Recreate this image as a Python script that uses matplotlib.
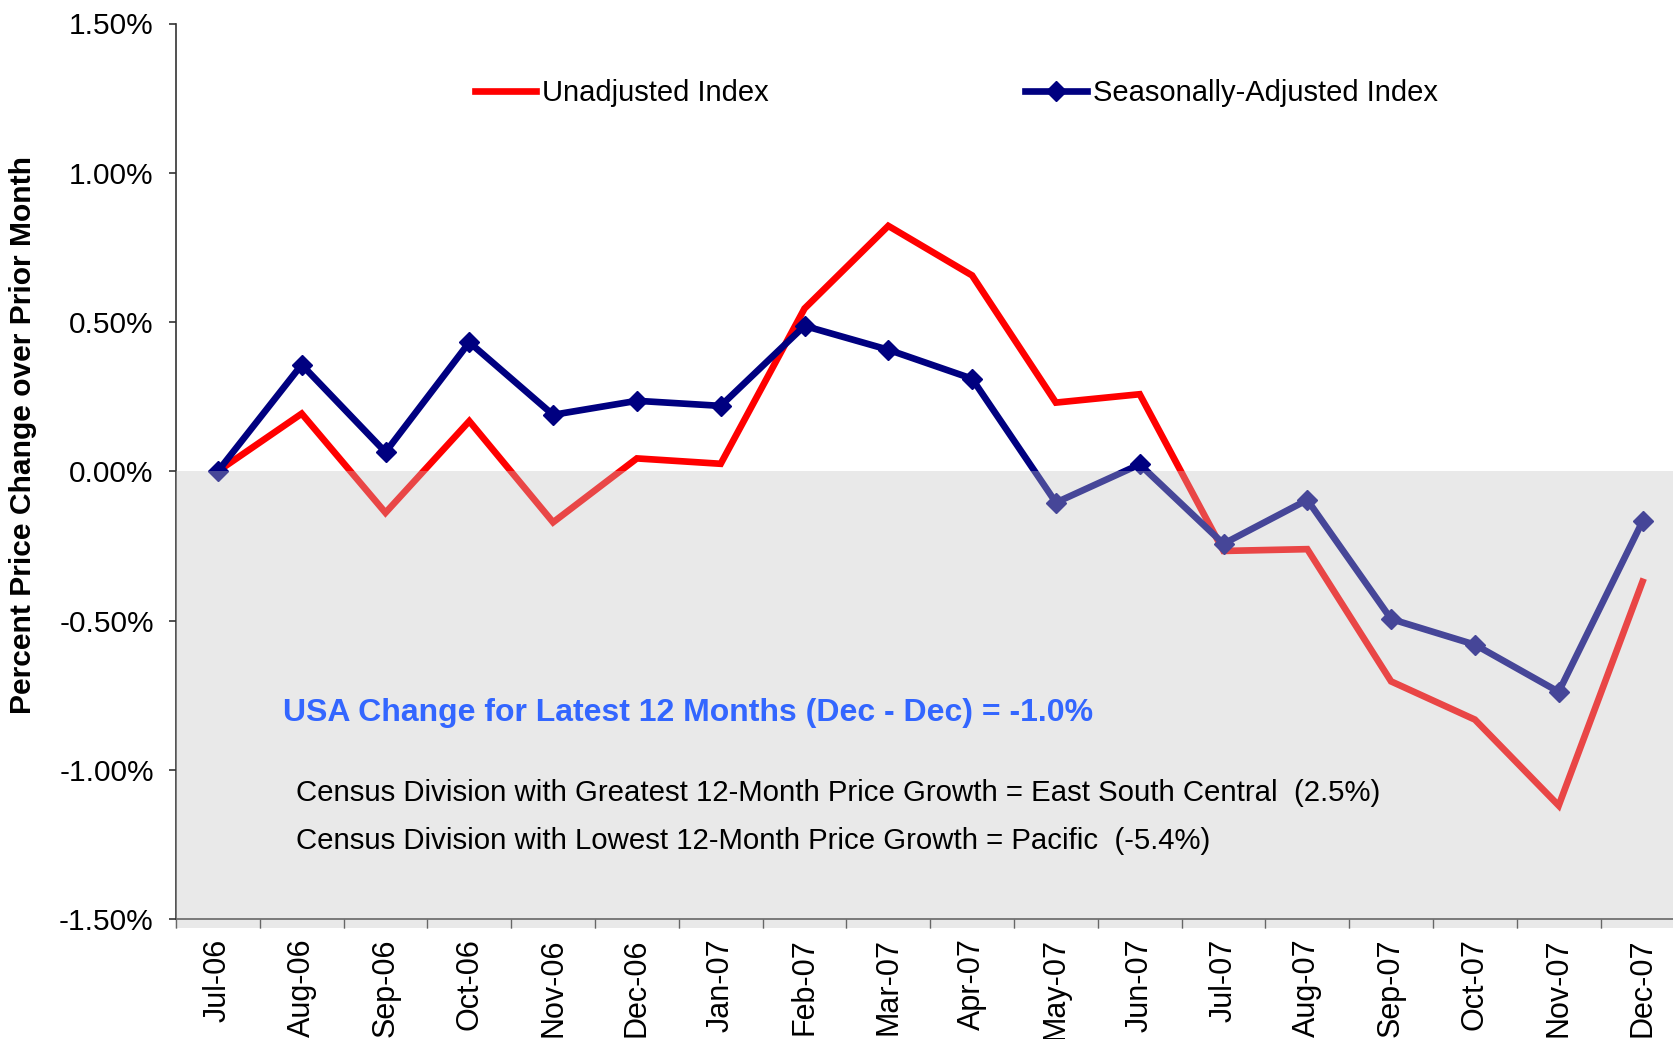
import matplotlib
matplotlib.use('Agg')
import matplotlib.pyplot as plt
from matplotlib.ticker import FuncFormatter, FixedLocator

plt.rcParams['font.family'] = ['Liberation Sans', 'DejaVu Sans']

months = ['Jul-06', 'Aug-06', 'Sep-06', 'Oct-06', 'Nov-06', 'Dec-06', 'Jan-07', 'Feb-07', 'Mar-07',
          'Apr-07', 'May-07', 'Jun-07', 'Jul-07', 'Aug-07', 'Sep-07', 'Oct-07', 'Nov-07', 'Dec-07']
unadjusted = [0.00, 0.193, -0.139, 0.168, -0.171, 0.043, 0.025, 0.545, 0.822, 0.656, 0.230, 0.258,
              -0.267, -0.261, -0.704, -0.832, -1.120, -0.370]
seasonal = [0.00, 0.357, 0.064, 0.432, 0.189, 0.236, 0.219, 0.487, 0.407, 0.310, -0.105, 0.023,
            -0.243, -0.096, -0.495, -0.581, -0.739, -0.168]
yticks = [-1.5, -1.0, -0.5, 0.0, 0.5, 1.0, 1.5]

RED = '#ff0000'; NAVY = '#000080'; LBLUE = '#3366ff'; SPINE = '#333333'

W, H = 1673, 1039
fig = plt.figure(figsize=(W / 100, H / 100), dpi=100)
fig.patch.set_facecolor('white')
ax = fig.add_axes([176 / W, 1 - 919 / H, (W - 176) / W, (919 - 23.5) / H])

x = list(range(len(months)))
ax.plot(x, unadjusted, color=RED, lw=4.8, solid_joinstyle='miter', label='Unadjusted Index', zorder=2)
ax.plot(x, seasonal, color=NAVY, lw=4.8, marker='D', markersize=10, solid_joinstyle='miter',
        label='Seasonally-Adjusted Index', zorder=2.5)

# shaded negative zone drawn over the lines
ax.axhspan(-1.5, 0, facecolor='#c4c4c4', alpha=0.36, edgecolor='none', zorder=3)
ax.axhspan(-1.53, -1.5, facecolor='#c4c4c4', alpha=0.36, edgecolor='none', zorder=3, clip_on=False)

ax.set_xlim(-0.5, -0.5 + (W - 176) / 83.8)
ax.set_ylim(-1.5, 1.5)
ax.set_yticks(yticks)
ax.yaxis.set_major_formatter(FuncFormatter(lambda v, p: f'{v:.2f}%'))
ax.tick_params(axis='y', labelsize=21.5, length=5, width=1.2, color=SPINE, pad=11)

ax.set_xticks(x)
ax.set_xticklabels(months, rotation=90, fontsize=22)
ax.xaxis.set_minor_locator(FixedLocator([i + 0.5 for i in range(-1, len(months))]))
ax.tick_params(axis='x', which='major', length=0, pad=14)
ax.tick_params(axis='x', which='minor', length=6.5, width=1.0, color=SPINE)

for s in ['top', 'right']:
    ax.spines[s].set_visible(False)
for s in ['left', 'bottom']:
    ax.spines[s].set_color(SPINE)
    ax.spines[s].set_linewidth(1.2)

ax.legend(loc='center left', bbox_to_anchor=(0.1997, 0.9222), borderaxespad=0, borderpad=0,
          frameon=False, ncol=2, fontsize=21, handlelength=2.1, handletextpad=0.2,
          columnspacing=8.8, markerscale=1.0)

fig.text(23.5 / W, 1 - 435 / H, 'Percent Price Change over Prior Month', rotation=90,
         fontsize=21.6, fontweight='bold', ha='center', va='center')

ax.text(283 / W, 1 - 713 / H, 'USA Change for Latest 12 Months (Dec - Dec) = -1.0%',
        transform=fig.transFigure, fontsize=23, fontweight='bold', color=LBLUE,
        ha='left', va='center', zorder=5)
ax.text(296 / W, 1 - 793 / H,
        'Census Division with Greatest 12-Month Price Growth = East South Central  (2.5%)',
        transform=fig.transFigure, fontsize=21.2, ha='left', va='center', zorder=5)
ax.text(296 / W, 1 - 841 / H,
        'Census Division with Lowest 12-Month Price Growth = Pacific  (-5.4%)',
        transform=fig.transFigure, fontsize=21.2, ha='left', va='center', zorder=5)

fig.savefig('out.png', dpi=100, facecolor='white')
